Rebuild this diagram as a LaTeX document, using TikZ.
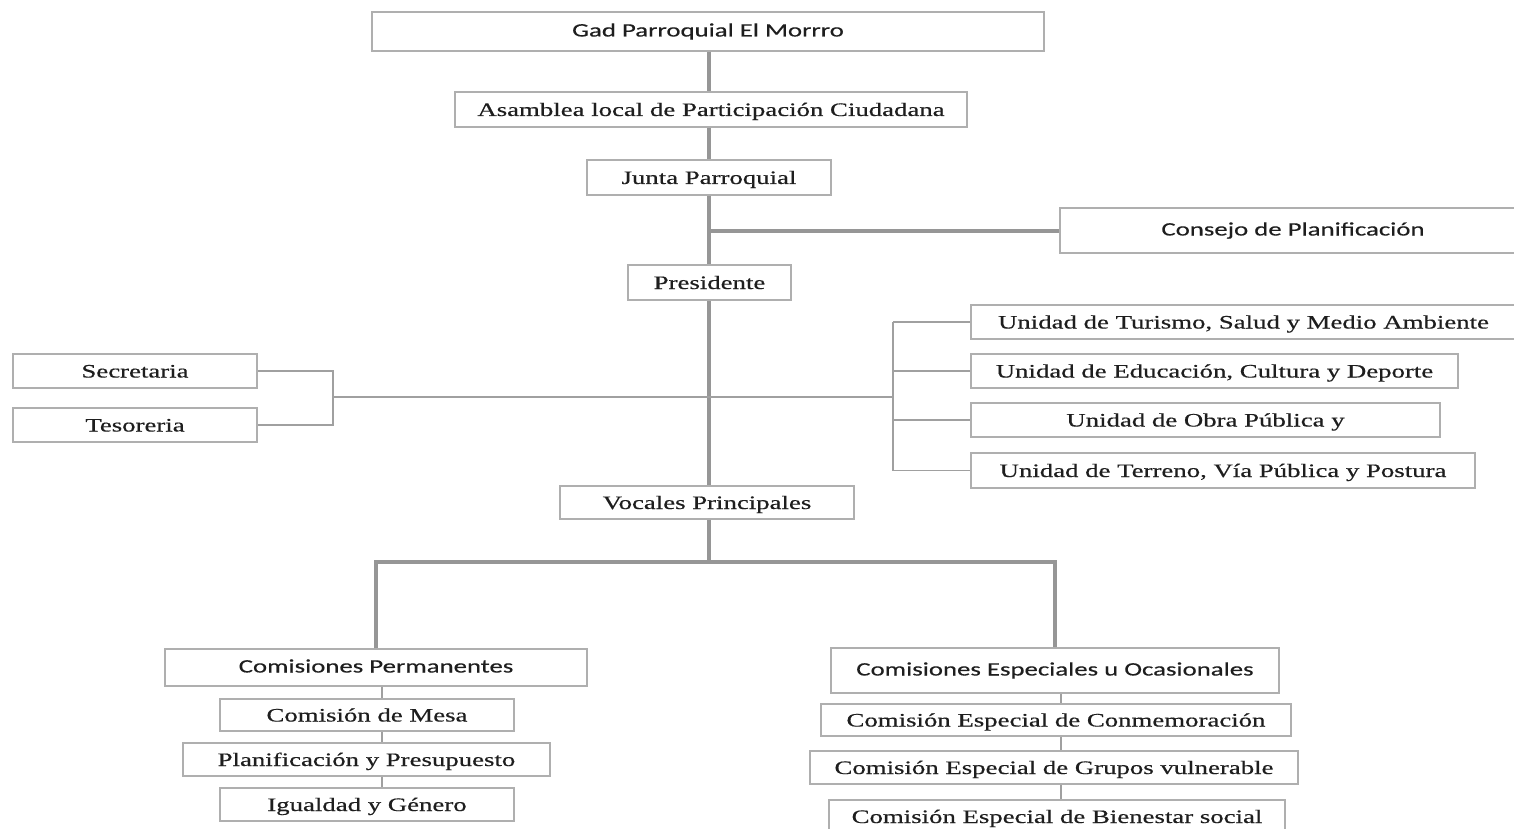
\documentclass[tikz,border=0pt]{standalone}
\usepackage{fontspec}
\newfontfamily\serifw[FakeStretch=1.41,FakeBold=0.5]{Liberation Serif}
\newfontfamily\sansw[FakeStretch=1.41,FakeBold=0.3]{Carlito}
\definecolor{boxline}{RGB}{175,175,175}
\definecolor{thickline}{RGB}{150,150,150}
\definecolor{thinline}{RGB}{160,160,160}
\definecolor{txt}{RGB}{30,30,30}
\tikzset{
  box/.style={draw=boxline, line width=1.4pt, fill=white, inner sep=0pt, text=txt, text depth=0pt},
  sbox/.style={box, text height=10pt, font=\sansw\fontsize{19}{22}\selectfont},
  tbox/.style={box, text height=13pt, font=\serifw\fontsize{19}{22}\selectfont},
  thickc/.style={draw=thickline, line width=4pt},
  thinc/.style={draw=thinline, line width=1.4pt},
}
\begin{document}
\begin{tikzpicture}[x=1pt,y=-1pt]
\useasboundingbox (0,0) rectangle (1514,829);
\fill[white] (0,0) rectangle (1514,829);
% coordinates for connector routing
\coordinate (spine) at (709,0);
\coordinate (bar) at (709,562);
\coordinate (lb) at (333,397);
\coordinate (rb) at (893,397);
\coordinate (lc) at (382,0);
\coordinate (rc) at (1061,0);
% nodes
\node[sbox, minimum width=672, minimum height=39] (gad) at (708,31.5) {Gad Parroquial El Morrro};
\node[tbox, minimum width=512, minimum height=35] (asam) at (711,109.5) {Asamblea local de Participación Ciudadana};
\node[tbox, minimum width=244, minimum height=35] (junta) at (709,177.5) {Junta Parroquial};
\node[sbox, minimum width=466, minimum height=45] (consejo) at (1293,230.5) {Consejo de Planificación};
\node[tbox, minimum width=163, minimum height=35] (pres) at (709.5,282.5) {Presidente};
\node[tbox, minimum width=244, minimum height=34] (sec) at (135,371) {Secretaria};
\node[tbox, minimum width=244, minimum height=34] (tes) at (135,425) {Tesoreria};
\node[tbox, minimum width=545, minimum height=34] (u1) at (1243.5,322) {Unidad de Turismo, Salud y Medio Ambiente};
\node[tbox, minimum width=487, minimum height=34] (u2) at (1214.5,371) {Unidad de Educación, Cultura y Deporte};
\node[tbox, minimum width=469, minimum height=34] (u3) at (1205.5,420) {Unidad de Obra Pública y};
\node[tbox, minimum width=504, minimum height=35] (u4) at (1223,470.5) {Unidad de Terreno, Vía Pública y Postura};
\node[tbox, minimum width=294, minimum height=33] (voc) at (707,502.5) {Vocales Principales};
\node[sbox, minimum width=422, minimum height=37] (cp) at (376,667.5) {Comisiones Permanentes};
\node[tbox, minimum width=294, minimum height=32] (mesa) at (367,715) {Comisión de Mesa};
\node[tbox, minimum width=367, minimum height=33] (plan) at (366.5,759.5) {Planificación y Presupuesto};
\node[tbox, minimum width=294, minimum height=33] (igual) at (367,804.5) {Igualdad y Género};
\node[sbox, minimum width=448, minimum height=45] (ce) at (1055,670.5) {Comisiones Especiales u Ocasionales};
\node[tbox, minimum width=470, minimum height=32] (conm) at (1056,720) {Comisión Especial de Conmemoración};
\node[tbox, minimum width=488, minimum height=33] (grup) at (1054,767.5) {Comisión Especial de Grupos vulnerable};
\node[tbox, minimum width=456, minimum height=33] (bien) at (1057,816.5) {Comisión Especial de Bienestar social};
% thick spine
\draw[thickc] (spine |- gad.south) -- (spine |- asam.north);
\draw[thickc] (spine |- asam.south) -- (spine |- junta.north);
\draw[thickc] (spine |- junta.south) -- (spine |- pres.north);
\draw[thickc] (spine |- pres.south) -- (spine |- voc.north);
\draw[thickc] (spine |- consejo.west) -- (consejo.west);
\draw[thickc] (spine |- voc.south) -- (bar);
\draw[thickc] (cp.north) -- (cp.north |- bar) -- (ce.north |- bar) -- (ce.north);
% thin left bracket
\draw[thinc] (sec.east) -- (lb |- sec.east) -- (lb |- tes.east) -- (tes.east);
\draw[thinc] (lb) -- (rb);
% thin right bracket
\draw[thinc] (rb |- u1.west) -- (rb |- u4.west);
\draw[thinc] (rb |- u1.west) -- (u1.west);
\draw[thinc] (rb |- u2.west) -- (u2.west);
\draw[thinc] (rb |- u3.west) -- (u3.west);
\draw[thinc] (rb |- u4.west) -- (u4.west);
% stacked thin connectors
\draw[thinc] (lc |- cp.south) -- (lc |- mesa.north);
\draw[thinc] (lc |- mesa.south) -- (lc |- plan.north);
\draw[thinc] (lc |- plan.south) -- (lc |- igual.north);
\draw[thinc] (rc |- ce.south) -- (rc |- conm.north);
\draw[thinc] (rc |- conm.south) -- (rc |- grup.north);
\draw[thinc] (rc |- grup.south) -- (rc |- bien.north);
\end{tikzpicture}
\end{document}
